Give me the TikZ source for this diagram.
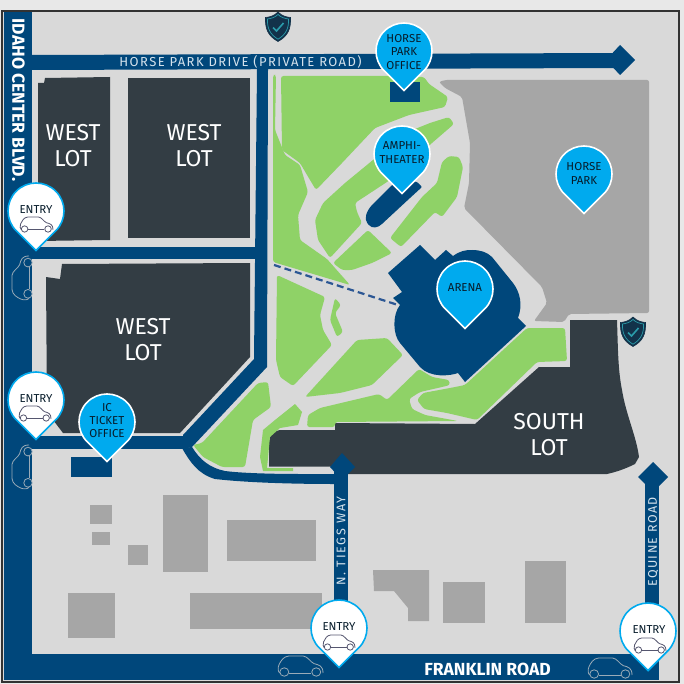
\documentclass[tikz,border=0pt]{standalone}
\usepackage{fontspec}
\setmainfont{Fira Sans}
\newfontfamily\spacedfont[LetterSpace=11]{Fira Sans}
\newfontfamily\spacedtiegs[LetterSpace=14]{Fira Sans}
\newfontfamily\spacedequine[LetterSpace=11]{Fira Sans}
\definecolor{road}{HTML}{00477B}
\definecolor{lot}{HTML}{333D44}
\definecolor{lawn}{HTML}{8FD267}
\definecolor{ground}{HTML}{D9D9D9}
\definecolor{paved}{HTML}{A6A6A6}
\definecolor{pinblue}{HTML}{00AAEE}
\definecolor{pale}{HTML}{D4E2EC}
\definecolor{inkdark}{HTML}{071C2B}
\definecolor{carline}{HTML}{9AABB8}
\definecolor{carpin}{HTML}{55566F}
\definecolor{dashblue}{HTML}{2C5794}
\definecolor{shieldteal}{HTML}{2A9BAA}
\definecolor{shielddark}{HTML}{12324A}
\tikzset{
  lawnshape/.style={fill=lawn,rounded corners=2.5pt},
  lotshape/.style={fill=lot},
  roadshape/.style={fill=road},
  bldg/.style={fill=paved},
  lotlabel/.style={text=white,font=\fontsize{23}{26}\selectfont,align=center,inner sep=0pt},
  pintext/.style={text=inkdark,font=\fontsize{11.5}{13.3}\selectfont,align=center,inner sep=0pt},
  roadtext/.style={text=pale,inner sep=0pt},
  boldtext/.style={text=white,inner sep=0pt,font=\fontsize{17.5}{20}\bfseries\selectfont},
}
\newcommand{\mappin}[4]{% x y fill border
  \filldraw[fill=#3,draw=#4,line width=1.6pt,line join=miter]
    (#1+19.8,#2+19.8) -- (#1,#2+39.6) -- (#1-19.8,#2+19.8)
    arc[start angle=135,end angle=405,radius=28] -- cycle;}
\newcommand{\carshape}[5]{% origin x y, u vector, v vector, colour
  \begin{scope}[shift={(#1,#2)},x={#3},y={#4},draw=#5,line width=0.8pt,line join=round]
    \draw (0.04,0.85) .. controls (0,0.8) and (-0.01,0.6) .. (0.02,0.45)
      .. controls (0.06,0.25) and (0.12,0.02) .. (0.24,0.0)
      -- (0.56,0.0) .. controls (0.66,0.02) and (0.72,0.3) .. (0.8,0.38)
      .. controls (0.92,0.45) and (1,0.5) .. (1,0.85);
    \draw (0.25,0.85) -- (0.74,0.85);
    \draw (0.14,0.8) circle[x radius=0.1,y radius=0.21];
    \draw (0.85,0.8) circle[x radius=0.1,y radius=0.21];
  \end{scope}}
\newcommand{\shieldicon}[2]{%
  \begin{scope}[shift={(#1,#2)}]
    \filldraw[fill=shielddark,draw=shielddark,line width=0.6pt]
      (0,-15) .. controls (4,-11) and (8,-10) .. (12.5,-9.5)
      .. controls (13,2) and (10,9) .. (0,14.5)
      .. controls (-10,9) and (-13,2) .. (-12.5,-9.5)
      .. controls (-8,-10) and (-4,-11) .. (0,-15) -- cycle;
    \draw[draw=shieldteal,line width=0.7pt]
      (0,-12.5) .. controls (3,-9.5) and (7,-8.5) .. (10.5,-8)
      .. controls (11,1) and (8,7.5) .. (0,12.2)
      .. controls (-8,7.5) and (-11,1) .. (-10.5,-8)
      .. controls (-7,-8.5) and (-3,-9.5) .. (0,-12.5) -- cycle;
    \draw[draw=shieldteal,line width=1.6pt] (-5,0.5) -- (-1.5,4) -- (5.5,-4);
  \end{scope}}
\begin{document}
\begin{tikzpicture}[x=1pt,y=-1pt]
\useasboundingbox (0,0) rectangle (684,684);
% page and frame
\fill[color={rgb,255:red,232;green,232;blue,232}] (0,0) rectangle (684,684);
\fill[ground] (3,11) rectangle (679,681);
\draw[color={rgb,255:red,50;green,50;blue,50},line width=2pt] (2,11) rectangle (679,681.5);
% horse park surface
\fill[bldg,rounded corners=2pt] (439,82) -- (445,80) -- (649,80) -- (649,313) -- (569,314) -- (564,322)
  -- (534,321) -- (547,303) -- (542,287) -- (464,208) -- (469,183) -- (470,143) -- (462,97) -- (445,88) -- cycle;
% roads
\fill[roadshape] (4,12) rectangle (32,680);
\fill[roadshape] (32,654) rectangle (659,680);
\fill[roadshape] (32,55) -- (618,53) -- (618,68) -- (32,70) -- cycle;
\fill[roadshape] (606,60) -- (620,45) -- (635,60) -- (620,75) -- cycle;
\fill[roadshape] (32,247) rectangle (257,259);
\fill[roadshape] (32,436) rectangle (183,449);
\fill[roadshape] (257,69) -- (268,69) -- (267,367) -- (192,447) -- (183,449) -- (183,435) -- (254,359) -- cycle;
\fill[roadshape] (182,448) .. controls (190,462) and (198,474) .. (215,479)
  .. controls (250,483) and (300,484) .. (334,484) -- (334,474) -- (300,474)
  .. controls (270,474) and (240,473) .. (225,471) .. controls (210,468) and (200,460) .. (192,447) -- cycle;
% lots
\fill[lotshape] (38,83) -- (44,83) -- (45,78) -- (110,77) -- (110,240) -- (38,241) -- cycle;
\fill[lotshape] (128,78) -- (250,78) -- (250,238) -- (128,238) -- cycle;
\fill[lotshape] (62,264) -- (250,263) -- (250,357) -- (180,433) -- (63,433) -- (47,412) -- (46,277) -- (60,279) -- cycle;
\fill[lotshape] (570,320) -- (617,320) .. controls (618,350) and (618,370) .. (622,390)
  .. controls (626,415) and (636,435) .. (639,457) -- (635,464) .. controls (625,469) and (616,472) .. (607,474)
  -- (348,474) -- (348,466.5) -- (269,466.5) -- (269,442) .. controls (269,435) and (274,430) .. (282,430) -- (335,430) -- (335,423)
  -- (475,424) -- (539,367) -- (570,367) -- cycle;
% lawns
\fill[lawnshape] (281,76) -- (390,76) -- (424,77) -- (429,84) -- (448,97) -- (445,107) -- (409,115) -- (375,128)
  -- (342,163) -- (316,190) -- (310,180) -- (300,163) -- (282,150) -- cycle;
\fill[lawnshape] (273,75) -- (276,75) -- (275,130) -- (285,155) -- (300,165) -- (308,192) -- (298,215) -- (300,240)
  -- (327,259) -- (350,285) -- (273,262) -- cycle;
\fill[lawnshape] (449,117) -- (454,124) -- (432,143) -- (390,180) -- (355,203) -- (357,212) -- (362,223) -- (330,258)
  -- (318,240) -- (315,220) -- (323,203) -- (345,183) -- (373,160) -- (400,135) -- (430,123) -- cycle;
\fill[lawnshape] (390,238) -- (401,247) -- (435,212) -- (442,217) -- (457,197) -- (463,167) -- (459,157) -- (449,156)
  -- (442,162) -- (437,183) -- (422,197) -- cycle;
\fill[lawnshape] (368,230) -- (392,253) -- (372,263) -- (352,270) -- (342,270) -- (333,263) -- cycle;
\fill[lawnshape] (277,275) -- (325,297) -- (320,315) -- (323,330) -- (332,345) -- (293,386) -- (280,377) -- (276,360) -- cycle;
\fill[lawnshape] (335,298) -- (341,305) -- (335,313) -- (343,332) -- (337,337) -- (330,320) -- cycle;
\fill[lawnshape] (357,340) -- (387,338) -- (403,355) -- (372,385) -- (340,393) -- (305,397) -- cycle;
\fill[lawnshape] (307,427) -- (308,415) -- (320,408) -- (379,394) -- (387,400) -- (419,369) -- (432,377) -- (449,380)
  -- (450,385) -- (442,387) -- (420,392) -- (409,399) -- (412,409) -- (425,415) -- (458,421) -- (335,422) -- (335,427) -- cycle;
\fill[lawnshape] (527,328) -- (565,328) -- (567,361) -- (537,362) -- (477,420) -- (447,413) -- (424,409) -- (417,400)
  -- (423,393) -- (450,388) -- (465,385) -- cycle;
\fill[lawnshape] (258,383) -- (268,382) -- (271,407) -- (253,420) -- (245,467) -- (222,467) -- (203,457) -- (193,445) -- (202,443) -- cycle;
\fill[lawn] (295,404) -- (302,412) -- (298,425) -- (280,428) -- (270,437) -- (267,468) -- (293,468) -- (293,471)
  -- (263,471) -- (260,457) -- (263,430) -- (275,420) -- cycle;
% dashed walkway
\coordinate (dashA) at (274,265);
\coordinate (dashB) at (398,305);
\draw[dashblue,line width=2.2pt,dash pattern=on 7pt off 4pt] (dashA) -- (dashB);
% buildings
\fill[roadshape] (390,82) rectangle (420,102);
\fill[roadshape] (71,457) rectangle (112,477);
\fill[roadshape,rounded corners=1pt] (417,182) -- (422,187) -- (410,198) -- (383,223) .. controls (378,228) and (372,229) .. (368,224)
  .. controls (364,219) and (366,212) .. (372,205) -- (392,185) -- (405,180) -- cycle;
\fill[roadshape] (420,245) -- (435,260) -- (446,250) -- (453,256) .. controls (460,251) and (465,250) .. (472,250)
  .. controls (480,250) and (487,252) .. (492,257) -- (513,283) .. controls (520,292) and (523,305) .. (518,318)
  -- (526,326) -- (465,382) -- (458,373) .. controls (450,376) and (430,378) .. (420,367) -- (400,343)
  .. controls (393,335) and (392,315) .. (400,305) -- (393,298) -- (402,292) -- (388,273) -- cycle;
\fill[bldg] (90,505) rectangle (112,524);
\fill[bldg] (92,532) rectangle (110,545);
\fill[bldg] (128,545) rectangle (148,565);
\fill[bldg] (163,495) rectangle (208,572);
\fill[bldg] (227,520) rectangle (316,561);
\fill[bldg] (68,593) rectangle (115,638);
\fill[bldg] (190,593) rectangle (322,629);
\fill[bldg] (373,570) -- (429,570) -- (429,621) -- (408,621) -- (408,608) -- (394,591) -- (374,591) -- cycle;
\fill[bldg] (443,582) rectangle (485,623);
\fill[bldg] (525,561) rectangle (566,623);
% arrows of side roads
\fill[roadshape] (334,470) rectangle (348,610);
\fill[roadshape] (330,467) -- (342,453) -- (355,467) -- (342,480) -- cycle;
\fill[roadshape] (645,480) rectangle (659,654);
\fill[roadshape] (638,477) -- (653,462) -- (668,477) -- (653,492) -- cycle;
% road cars
\carshape{278}{656}{(45pt,0pt)}{(0pt,-20pt)}{carline}
\carshape{588}{658}{(44pt,0pt)}{(0pt,-20pt)}{carline}
\carshape{12}{300}{(0pt,44pt)}{(20pt,0pt)}{carline}
\carshape{12}{489}{(0pt,44pt)}{(20pt,0pt)}{carline}
% shields
\shieldicon{278}{27}
\shieldicon{633}{332}
% road names
\node[roadtext,font=\fontsize{13}{15}\spacedfont] (hpd) at (240.5,62) {HORSE PARK DRIVE (PRIVATE ROAD)};
\node[boldtext,rotate=-90] (idaho) at (18.5,100) {IDAHO CENTER BLVD.};
\node[roadtext,rotate=90,font=\fontsize{12.5}{14}\spacedtiegs] (tiegs) at (341,541) {N. TIEGS WAY};
\node[roadtext,rotate=90,font=\fontsize{12.5}{14}\spacedequine] (equine) at (653,542) {EQUINE ROAD};
\node[boldtext] (franklin) at (487.5,669) {FRANKLIN ROAD};
% lot labels
\node[lotlabel] (w1a) at (73,133) {WEST};
\node[lotlabel] (w1b) at (73,159) {LOT};
\node[lotlabel] (w2a) at (194,133) {WEST};
\node[lotlabel] (w2b) at (194,159) {LOT};
\node[lotlabel] (w3a) at (143,327) {WEST};
\node[lotlabel] (w3b) at (143,353) {LOT};
\node[lotlabel] (s1) at (549,422) {SOUTH};
\node[lotlabel] (s2) at (549,448) {LOT};
% blue pins
\mappin{404}{51}{pinblue}{white}
\mappin{402}{154}{pinblue}{white}
\mappin{584}{174}{pinblue}{white}
\mappin{465}{289}{pinblue}{white}
\mappin{107}{422}{pinblue}{white}
\node[pintext] (p1) at (404,52) {HORSE\\PARK\\OFFICE};
\node[pintext] (p2) at (402,152.5) {AMPHI-\\THEATER};
\node[pintext] (p3) at (584,173.5) {HORSE\\PARK};
\node[pintext] (p4) at (465,288) {ARENA};
\node[pintext] (p5) at (107,420.5) {IC\\TICKET\\OFFICE};
% entry pins
\mappin{36}{211}{white}{pinblue}
\mappin{36}{400}{white}{pinblue}
\mappin{339}{628}{white}{pinblue}
\mappin{648}{631}{white}{pinblue}
\node[pintext] (e1) at (36,210) {ENTRY};
\node[pintext] (e2) at (36,399) {ENTRY};
\node[pintext] (e3) at (339,627) {ENTRY};
\node[pintext] (e4) at (649,630) {ENTRY};
\carshape{20}{217}{(33pt,0pt)}{(0pt,-15pt)}{carpin}
\carshape{19}{406}{(32pt,0pt)}{(0pt,-15pt)}{carpin}
\carshape{323}{635}{(32pt,0pt)}{(0pt,-15pt)}{carpin}
\carshape{634}{638}{(32pt,0pt)}{(0pt,-15pt)}{carpin}
\end{tikzpicture}
\end{document}
